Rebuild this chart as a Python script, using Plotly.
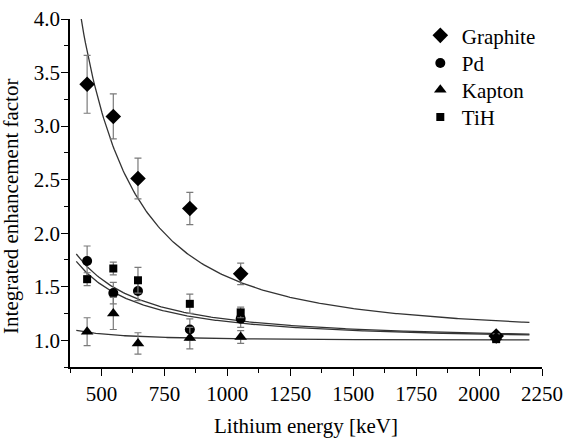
import numpy as np
import plotly.graph_objects as go

# ---- data ----
energy = [443, 547, 645, 851, 1053, 2068]  # keV

graphite = [3.39, 3.09, 2.51, 2.23, 1.62, 1.04]
graphite_err = [0.27, 0.21, 0.19, 0.15, 0.10, 0.03]

pd_vals = [1.74, 1.44, 1.46, 1.10, 1.20, 1.02]
pd_err = [0.14, 0.10, 0.09, 0.10, 0.08, 0.03]

kapton = [1.08, 1.25, 0.97, 1.02, 1.03, 1.03]
kapton_err = [0.13, 0.15, 0.10, 0.10, 0.06, 0.03]

tih = [1.57, 1.67, 1.56, 1.34, 1.26, 1.01]
tih_err = [0.06, 0.06, 0.12, 0.09, 0.05, 0.02]

# fit curves y = c + exp(lnA) * E^-n
fit_names = ["Graphite", "Pd", "Kapton", "TiH"]
fit_c = [1.05, 1.00, 1.00, 1.00]
fit_lnA = [12.856, 9.07, 9.60, 9.16]
fit_n = [1.95, 1.55, 2.00, 1.58]
fit_range = [400, 2200]

series = [
    ("Graphite", graphite, graphite_err, "diamond", 12),
    ("Pd", pd_vals, pd_err, "circle", 10),
    ("Kapton", kapton, kapton_err, "triangle-up", 11),
    ("TiH", tih, tih_err, "square", 8),
]

x_title = "Lithium energy [keV]"
y_title = "Integrated enhancement factor"

FONT = "Liberation Serif, Times New Roman, serif"
fnt = dict(family=FONT, size=21, color="black")
fig = go.Figure()

e_fit = np.linspace(fit_range[0], fit_range[1], 300)
for name, c, lna, n in zip(fit_names, fit_c, fit_lnA, fit_n):
    fig.add_trace(go.Scatter(
        x=e_fit, y=c + np.exp(lna) * e_fit ** (-n), mode="lines",
        line=dict(color="#333333", width=1.3), showlegend=False,
        hoverinfo="skip", name=name + " fit"))

legend_ids = ["legend", "legend2", "legend3", "legend4"]
for (name, vals, err, sym, size), lid in zip(series, legend_ids):
    fig.add_trace(go.Scatter(
        x=energy, y=vals, mode="markers", name=name, legend=lid,
        marker=dict(symbol=sym, size=size, color="black"),
        error_y=dict(type="data", array=err, visible=True,
                     color="#7a7a7a", thickness=1.2, width=3.5),
    ))

# one legend box per entry to reproduce the reference's tight row spacing
row_px = [35.7, 63.3, 90.0, 117.3]
plot_top, plot_h = 19, 348
legend_x = 0.739
legends = {}
for lid, py in zip(legend_ids, row_px):
    legends[lid] = dict(x=legend_x, y=1 - (py - plot_top) / plot_h,
                        xanchor="left", yanchor="middle",
                        bgcolor="rgba(0,0,0,0)", font=fnt,
                        itemsizing="trace", itemwidth=33)

fig.update_layout(
    width=572, height=442,
    margin=dict(l=70, r=30, t=19, b=75, autoexpand=False),
    plot_bgcolor="white", paper_bgcolor="white",
    font=fnt,
    showlegend=True,
    xaxis=dict(
        range=[375, 2250], tick0=0, dtick=250, automargin=False,
        showline=True, linecolor="black", linewidth=1.6,
        ticks="outside", ticklen=7, tickwidth=1.4, tickcolor="black",
        tickfont=fnt,
        minor=dict(dtick=125, tick0=0, ticks="outside", ticklen=4,
                   tickwidth=1.2, tickcolor="black", showgrid=False),
        showgrid=False, zeroline=False, mirror=False,
        title=dict(text=x_title, standoff=13, font=fnt),
    ),
    yaxis=dict(
        range=[0.75, 4.0], tick0=0, dtick=0.5, tickformat=".1f",
        automargin=False, ticklabelstandoff=-3,
        showline=True, linecolor="black", linewidth=1.6,
        ticks="outside", ticklen=7, tickwidth=1.4, tickcolor="black",
        tickfont=fnt,
        minor=dict(dtick=0.25, tick0=0, ticks="outside", ticklen=4,
                   tickwidth=1.2, tickcolor="black", showgrid=False),
        showgrid=False, zeroline=False, mirror=False,
    ),
    annotations=[dict(
        text=y_title, textangle=-90, xref="paper", yref="paper",
        x=-0.125, y=0.46, xanchor="center", yanchor="middle",
        showarrow=False, font=fnt)],
    **legends,
)

fig.write_html("out.html")
